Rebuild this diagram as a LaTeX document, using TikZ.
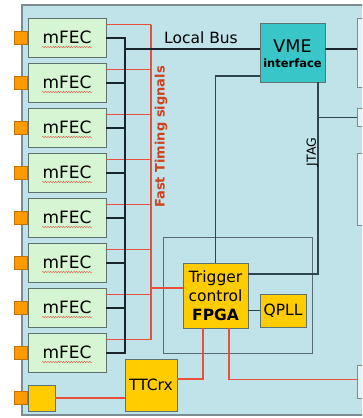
\documentclass[tikz,border=0pt]{standalone}
\usepackage{fontspec}
\setmainfont{DejaVu Sans}
\usepackage{tikz}
\usetikzlibrary{positioning, decorations.pathmorphing}
\definecolor{PanelBlue}{HTML}{BFE3E8}
\definecolor{PanelEdge}{HTML}{7B8D92}
\definecolor{MintGreen}{HTML}{D6F5D2}
\definecolor{BoxEdge}{HTML}{5E7270}
\definecolor{PinOrange}{HTML}{FF9A00}
\definecolor{ChipYellow}{HTML}{FFCC00}
\definecolor{VmeTeal}{HTML}{38C6C8}
\definecolor{SignalRed}{HTML}{E8503C}
\definecolor{LabelRed}{HTML}{D2401C}
\definecolor{BusBlack}{HTML}{18252C}
\definecolor{WireGrey}{HTML}{2E4550}
\definecolor{SlotWhite}{HTML}{E6F3F5}

\begin{document}
\begin{tikzpicture}[x=1pt, y=-1pt,
    fecbox/.style={draw=BoxEdge, fill=MintGreen, line width=0.9pt, inner sep=0pt,
      minimum width=78pt, minimum height=39pt, font=\fontsize{17}{17}\selectfont},
    pinbox/.style={draw=PinOrange!75!black, fill=PinOrange, line width=0.6pt,
      minimum size=13pt, inner sep=0pt},
    chip/.style={draw=BoxEdge, fill=ChipYellow, line width=0.9pt, inner sep=0pt,
      font=\fontsize{15.5}{19}\selectfont},
    slotbox/.style={draw=PanelEdge, fill=SlotWhite, line width=1pt, inner sep=0pt,
      anchor=north west, minimum width=20pt},
    bus/.style={BusBlack, line width=2pt},
    wire/.style={WireGrey, line width=1.1pt},
    fast/.style={SignalRed, line width=1.2pt},
    squiggle/.style={SignalRed, line width=0.4pt, decorate,
      decoration={snake, amplitude=0.6pt, segment length=2.6pt}}]
    \useasboundingbox (0,0) rectangle (362,418);
    \clip (0,0) rectangle (362,418);
    % crate panel
    \fill[PanelBlue] (22,5) rectangle (372,415);
    \draw[PanelEdge, line width=1.2pt] (372,5) -- (22,5) -- (22,415) -- (372,415);

    % front-end cards
    \foreach \i in {1,...,8}{
      \pgfmathsetmacro\ytop{18+45*(\i-1)}
      \node[fecbox] (mfec\i) at (67,\ytop+19.5) {mFEC};
      \node[pinbox, left=0pt of mfec\i] (pin\i) {};
      \draw[squiggle] (mfec\i.center) ++(-25,9.5) -- ++(50,0);
      \coordinate (bus\i) at (125,\ytop+19.5);
      \coordinate (ft\i) at (151,\ytop+6.5);
      \draw[fast] (ft\i -| mfec\i.east) -- (ft\i);
    }
    \coordinate (ftrig) at (151,288);
    \draw[fast] (ft1) -- (ft8);
    \node[rotate=90, text=LabelRed, font=\fontsize{13}{13}\selectfont\bfseries]
      (ftlabel) at (161,137) {Fast Timing signals};

    \draw[bus] (mfec1.east) -- (bus1) -- (bus8) -- (mfec8.east);
    \foreach \i in {2,...,7}
      \draw[bus] (mfec\i.east) -- (bus\i);

    % right-hand slots
    \node[slotbox, minimum height=69pt] (slot1) at (357,18) {};
    \node[slotbox, minimum height=18pt] (slot2) at (357,108) {};
    \node[slotbox, minimum height=72pt] (slot3) at (357,153) {};
    \node[slotbox, minimum height=33pt] (slot4) at (357,365) {};

    \node[draw=BoxEdge, fill=VmeTeal, line width=0.9pt, minimum width=65pt,
      minimum height=59pt] (vme) at (292.5,52.5) {};
    \node[font=\fontsize{17.5}{17.5}\selectfont, inner sep=0pt] (vmetext)
      at (292.5,46) {VME};
    \node[font=\fontsize{11.5}{11.5}\selectfont\bfseries, inner sep=0pt] (vmesub)
      at (292.5,63) {interface};
    \coordinate (lbus) at (125,49);
    \draw[bus] (lbus) -- (lbus -| vme.west);
    \draw[bus] (lbus -| vme.east) -- (lbus -| slot1.west);
    \node[font=\fontsize{15.5}{15.5}\selectfont] (lbuslabel) at (201,38) {Local Bus};

    % trigger area
    \node[draw=WireGrey!80, line width=1pt, inner sep=0pt, minimum width=149pt,
      minimum height=116pt] (trigzone) at (237.5,295) {};
    \node[chip, align=center, minimum width=65pt, minimum height=65pt] (fpga)
      at (215.5,295.5) {Trigger\\control\\\textbf{FPGA}};
    \node[chip, minimum width=46pt, minimum height=33pt] (qpll) at (283,310.5) {QPLL};
    \draw[wire] (fpga.east |- qpll.west) -- (qpll.west);
    \draw[wire] ([yshift=-23.5pt]vme.west) -| (fpga.north);

    \coordinate (jtag) at (318,274);
    \draw[wire] (vme.south -| jtag) -- (jtag) -- (jtag -| fpga.east);
    \draw[wire] (jtag |- slot2.west) -- (slot2.west);
    \node[rotate=90, font=\fontsize{12.5}{12.5}\selectfont] (jtaglabel) at (312.5,152) {JTAG};

    \draw[fast] (ftrig) -- (ftrig -| fpga.west);

    % clock receiver
    \node[chip, minimum width=52pt, minimum height=52pt] (ttcrx) at (151,385) {TTCrx};
    \node[chip, minimum width=27pt, minimum height=26pt] (optin) at (41.5,398) {};
    \node[pinbox, left=0pt of optin] (pin9) {};
    \draw[fast] (optin.east) -- (ttcrx.west |- optin.east);
    \draw[fast] ([yshift=6pt]ttcrx.east) -| ([xshift=-12.5pt]fpga.south);
    \draw[fast] ([xshift=13.5pt]fpga.south) |- ([yshift=2.5pt]slot4.west);
\end{tikzpicture}
\end{document}
